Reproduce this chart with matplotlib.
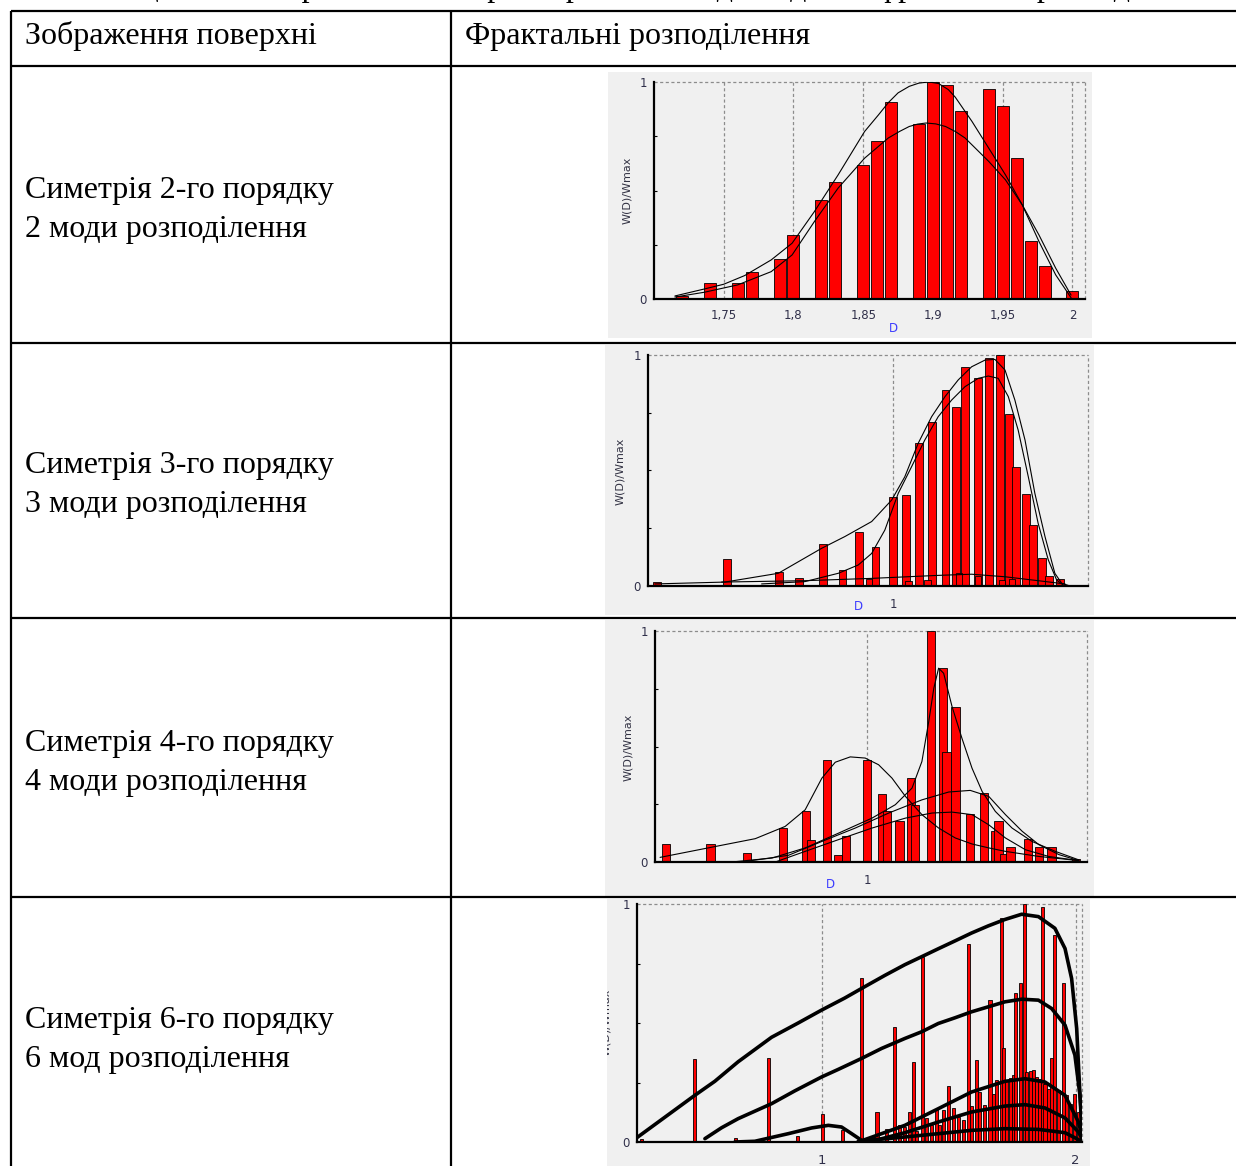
import matplotlib.pyplot as plt

W_PX, H_PX = 1236, 1166

# table text
caption_text = "Таблиця 3.2 – Зображення поверхні зразків та відповідні їм фрактальні розподілення D для різних порядків"
header_left = "Зображення поверхні"
header_right = "Фрактальні розподілення"
row_lines = [
    ["Симетрія 2-го порядку", "2 моди розподілення"],
    ["Симетрія 3-го порядку", "3 моди розподілення"],
    ["Симетрія 4-го порядку", "4 моди розподілення"],
    ["Симетрія 6-го порядку", "6 мод розподілення"],
]

# symmetry of 2nd order: histogram + two fitted modes
sym2_d = [1.72, 1.74, 1.76, 1.77, 1.79, 1.80, 1.82, 1.83, 1.85, 1.86, 1.87,
          1.89, 1.90, 1.91, 1.92, 1.94, 1.95, 1.96, 1.97, 1.98, 2.00]
sym2_w = [0.014, 0.072, 0.072, 0.126, 0.183, 0.295, 0.454, 0.538, 0.618, 0.726, 0.908,
          0.808, 1.0, 0.988, 0.865, 0.969, 0.891, 0.649, 0.268, 0.154, 0.037]
sym2_fit1_d = [1.715, 1.736, 1.750, 1.765, 1.784, 1.799, 1.815, 1.832, 1.851, 1.861, 1.868,
               1.875, 1.883, 1.890, 1.897, 1.904, 1.911, 1.916, 1.928, 1.940, 1.952, 1.964,
               1.976, 1.988, 1.999]
sym2_fit1_w = [0.014, 0.046, 0.068, 0.108, 0.180, 0.257, 0.403, 0.572, 0.772, 0.849, 0.905,
               0.950, 0.980, 0.995, 1.0, 0.993, 0.965, 0.930, 0.818, 0.695, 0.572, 0.434,
               0.265, 0.111, 0.006]
sym2_fit2_d = [1.715, 1.736, 1.760, 1.784, 1.799, 1.815, 1.832, 1.851, 1.868, 1.876, 1.883,
               1.889, 1.895, 1.902, 1.909, 1.916, 1.923, 1.940, 1.952, 1.964, 1.976, 1.988, 1.999]
sym2_fit2_w = [0.009, 0.031, 0.065, 0.126, 0.203, 0.357, 0.511, 0.649, 0.742, 0.772, 0.795,
               0.806, 0.811, 0.807, 0.795, 0.772, 0.742, 0.634, 0.549, 0.434, 0.295, 0.142, 0.018]

# symmetry of 3rd order
sym3_d = [0.066, 0.343, 0.551, 0.630, 0.722, 0.801, 0.867, 0.931, 1.001, 1.051, 1.104,
          1.153, 1.208, 1.248, 1.285, 1.337, 1.379, 1.423, 1.460, 1.487, 1.526, 1.555,
          1.590, 1.618, 1.660]
sym3_w = [0.019, 0.115, 0.062, 0.036, 0.180, 0.069, 0.235, 0.167, 0.384, 0.394, 0.618,
          0.711, 0.848, 0.773, 0.949, 0.899, 0.986, 1.0, 0.745, 0.514, 0.398, 0.264,
          0.120, 0.045, 0.029]
sym3_low_d = [0.906, 1.061, 1.137, 1.261, 1.335, 1.430, 1.470]
sym3_low_w = [0.029, 0.022, 0.025, 0.058, 0.045, 0.025, 0.030]
sym3_fit1_d = [0.059, 0.336, 0.547, 0.718, 0.810, 0.916, 0.995, 1.047, 1.100, 1.153, 1.206,
               1.258, 1.311, 1.364, 1.403, 1.443, 1.482, 1.522, 1.561, 1.601, 1.640, 1.667, 1.700]
sym3_fit1_w = [0.009, 0.017, 0.055, 0.163, 0.214, 0.279, 0.372, 0.473, 0.618, 0.733, 0.820,
               0.892, 0.949, 0.978, 0.981, 0.935, 0.805, 0.632, 0.401, 0.214, 0.055, 0.012, 0.0]
sym3_fit2_d = [0.481, 0.652, 0.784, 0.863, 0.916, 0.968, 1.021, 1.074, 1.126, 1.179, 1.232,
               1.285, 1.337, 1.377, 1.416, 1.456, 1.495, 1.535, 1.574, 1.614, 1.647, 1.673]
sym3_fit2_w = [0.009, 0.019, 0.055, 0.091, 0.141, 0.242, 0.401, 0.517, 0.632, 0.733, 0.805,
               0.863, 0.899, 0.909, 0.899, 0.820, 0.675, 0.473, 0.271, 0.113, 0.026, 0.004]
sym3_fit3_d = [0.323, 0.652, 0.916, 1.179, 1.311, 1.443, 1.574, 1.680]
sym3_fit3_w = [0.017, 0.023, 0.033, 0.046, 0.051, 0.040, 0.023, 0.009]

# symmetry of 4th order
sym4_d = [0.207, 0.382, 0.526, 0.668, 0.760, 0.779, 0.842, 0.885, 0.918, 1.001, 1.059,
          1.079, 1.128, 1.174, 1.191, 1.253, 1.300, 1.314, 1.349, 1.408, 1.461, 1.507,
          1.520, 1.540, 1.567, 1.636, 1.679, 1.729, 1.826]
sym4_w = [0.079, 0.079, 0.037, 0.147, 0.219, 0.097, 0.442, 0.032, 0.114, 0.442, 0.294,
          0.222, 0.176, 0.363, 0.248, 1.0, 0.839, 0.478, 0.669, 0.209, 0.298, 0.135,
          0.176, 0.035, 0.066, 0.101, 0.066, 0.066, 0.014]
sym4_fit1_d = [0.183, 0.382, 0.559, 0.677, 0.756, 0.822, 0.875, 0.934, 0.993, 1.046, 1.099,
               1.152, 1.217, 1.283, 1.349, 1.415, 1.481, 1.547, 1.679, 1.837]
sym4_fit1_w = [0.020, 0.063, 0.101, 0.154, 0.226, 0.363, 0.432, 0.455, 0.450, 0.421, 0.363,
               0.284, 0.205, 0.147, 0.104, 0.078, 0.061, 0.046, 0.024, 0.006]
sym4_fit2_d = [0.466, 0.625, 0.756, 0.888, 1.020, 1.112, 1.178, 1.217, 1.244, 1.264, 1.283,
               1.303, 1.336, 1.375, 1.415, 1.455, 1.507, 1.573, 1.652, 1.744, 1.837]
sym4_fit2_w = [0.0, 0.017, 0.061, 0.125, 0.190, 0.248, 0.320, 0.435, 0.608, 0.752, 0.839,
               0.817, 0.673, 0.536, 0.406, 0.305, 0.219, 0.147, 0.089, 0.046, 0.009]
sym4_fit3_d = [0.506, 0.690, 0.822, 0.954, 1.086, 1.217, 1.323, 1.408, 1.481, 1.547, 1.613,
               1.679, 1.758, 1.837]
sym4_fit3_w = [0.0, 0.029, 0.089, 0.147, 0.212, 0.269, 0.303, 0.310, 0.284, 0.205, 0.133,
               0.075, 0.032, 0.006]
sym4_fit4_d = [0.638, 0.756, 0.888, 1.020, 1.152, 1.257, 1.336, 1.415, 1.481, 1.547, 1.626,
               1.718, 1.837]
sym4_fit4_w = [0.0, 0.046, 0.097, 0.147, 0.190, 0.212, 0.216, 0.205, 0.161, 0.104, 0.053,
               0.024, 0.006]

# symmetry of 6th order
sym6_d = [0.287, 0.497, 0.658, 0.787, 0.901, 1.000, 1.079, 1.155, 1.195, 1.216,
          1.254, 1.286, 1.304, 1.326, 1.346, 1.359, 1.372, 1.396, 1.412, 1.432,
          1.451, 1.464, 1.480, 1.497, 1.517, 1.537, 1.557, 1.576, 1.589, 1.609,
          1.622, 1.642, 1.662, 1.675, 1.688, 1.708, 1.717, 1.728, 1.741, 1.754,
          1.764, 1.783, 1.797, 1.807, 1.820, 1.833, 1.846, 1.859, 1.870, 1.879,
          1.892, 1.905, 1.918, 1.932, 1.951, 1.964, 1.978, 1.995, 2.011, 2.024]
sym6_w = [0.011, 0.348, 0.017, 0.353, 0.025, 0.119, 0.049, 0.687, 0.017, 0.126,
          0.056, 0.484, 0.073, 0.063, 0.126, 0.337, 0.046, 0.778, 0.101, 0.070,
          0.140, 0.070, 0.133, 0.234, 0.143, 0.105, 0.091, 0.834, 0.151, 0.344,
          0.210, 0.154, 0.596, 0.203, 0.259, 0.942, 0.393, 0.259, 0.269, 0.281,
          0.627, 0.670, 1.0, 0.295, 0.297, 0.302, 0.273, 0.266, 0.989, 0.245,
          0.224, 0.351, 0.870, 0.217, 0.670, 0.196, 0.161, 0.203, 0.126, 0.070]
sym6_fit1_d = [0.267, 0.497, 0.576, 0.668, 0.800, 0.905, 0.997, 1.089, 1.155, 1.247, 1.326,
               1.405, 1.458, 1.524, 1.589, 1.655, 1.721, 1.787, 1.853, 1.918, 1.958, 1.984,
               2.004, 2.017, 2.026]
sym6_fit1_w = [0.017, 0.196, 0.255, 0.337, 0.440, 0.500, 0.554, 0.605, 0.645, 0.700, 0.745,
               0.785, 0.812, 0.845, 0.878, 0.908, 0.935, 0.957, 0.947, 0.898, 0.813, 0.687,
               0.477, 0.196, 0.014]
sym6_fit2_d = [0.537, 0.603, 0.668, 0.800, 0.892, 0.997, 1.063, 1.155, 1.234, 1.326, 1.392,
               1.458, 1.524, 1.589, 1.655, 1.721, 1.787, 1.853, 1.905, 1.958, 1.997, 2.017, 2.030]
sym6_fit2_w = [0.014, 0.060, 0.098, 0.161, 0.215, 0.273, 0.305, 0.351, 0.393, 0.435, 0.463,
               0.498, 0.522, 0.547, 0.568, 0.589, 0.600, 0.596, 0.561, 0.491, 0.365, 0.196, 0.014]
sym6_fit3_d = [1.142, 1.326, 1.458, 1.589, 1.721, 1.800, 1.879, 1.958, 2.011, 2.030]
sym6_fit3_w = [0.0, 0.070, 0.140, 0.210, 0.255, 0.266, 0.252, 0.196, 0.084, 0.007]
sym6_fit4_d = [1.195, 1.326, 1.458, 1.589, 1.721, 1.800, 1.879, 1.958, 2.011, 2.030]
sym6_fit4_w = [0.003, 0.039, 0.084, 0.126, 0.151, 0.157, 0.143, 0.101, 0.042, 0.003]
sym6_fit5_d = [1.142, 1.326, 1.458, 1.589, 1.721, 1.853, 1.958, 2.024]
sym6_fit5_w = [0.003, 0.021, 0.035, 0.049, 0.056, 0.053, 0.039, 0.003]
sym6_fit6_d = [0.655, 0.734, 0.866, 0.958, 1.024, 1.076, 1.116, 1.155, 1.195]
sym6_fit6_w = [0.0, 0.003, 0.035, 0.059, 0.070, 0.063, 0.035, 0.007, 0.0]

PANEL_BG = '#f0f0f0'
GRID = '#8c8c8c'
TICK_C = '#30304a'
SERIF = 'Liberation Serif'


def px_axes(fig, left, top, right, bottom):
    return fig.add_axes([left / W_PX, 1 - bottom / H_PX,
                         (right - left) / W_PX, (bottom - top) / H_PX])


def panel(fig, box):
    # grey backdrop of the exported program window, in pixel units
    ax = px_axes(fig, *box)
    ax.set_facecolor(PANEL_BG)
    ax.set_xlim(box[0], box[2])
    ax.set_ylim(box[3], box[1])
    ax.set_xticks([])
    ax.set_yticks([])
    for s in ax.spines.values():
        s.set_visible(False)
    return ax


def hist_axes(fig, box, xlim, grid_x, xticks, xlabels, xpad, tsize=8.5):
    ax = px_axes(fig, *box)
    ax.set_facecolor(PANEL_BG)
    ax.set_xlim(*xlim)
    ax.set_ylim(0, 1)
    ax.spines['top'].set_visible(False)
    ax.spines['right'].set_visible(False)
    ax.spines['left'].set_linewidth(1.6)
    ax.spines['bottom'].set_linewidth(1.6)
    dash = (0, (2.5, 2))
    for g in grid_x:
        ax.axvline(g, color=GRID, lw=0.9, ls=dash, zorder=1)
    ax.axhline(1, color=GRID, lw=0.9, ls=dash, zorder=1, clip_on=False)
    ax.axvline(xlim[1], color=GRID, lw=0.9, ls=dash, zorder=1, clip_on=False)
    ax.set_yticks([0, 1])
    ax.set_yticklabels(['0', '1'])
    ax.set_yticks([0.25, 0.5, 0.75], minor=True)
    ax.tick_params(axis='y', which='major', length=0, pad=5, labelsize=8.5, labelcolor=TICK_C)
    ax.tick_params(axis='y', which='minor', direction='in', length=2, width=0.8)
    ax.set_xticks(xticks)
    ax.set_xticklabels(xlabels)
    ax.tick_params(axis='x', length=0, pad=xpad, labelsize=tsize, labelcolor=TICK_C)
    return ax


def bars(ax, d, w, width):
    ax.bar(d, w, width=width, color='#ff0000', edgecolor='black', linewidth=0.6, zorder=2)


def curves(ax, pairs, lw):
    for xs, ys in pairs:
        ax.plot(xs, ys, color='black', lw=lw, zorder=3, solid_joinstyle='round',
                solid_capstyle='round')


def ylabel(bg, x, y, clip=False):
    bg.text(x, y, 'W(D)/Wmax', rotation=90, ha='center', va='center', fontsize=8,
            color='#333344', clip_on=clip)


def dlabel(bg, x, y):
    bg.text(x, y, 'D', ha='center', va='center', fontsize=8.5, color='#3c3cff')


fig = plt.figure(figsize=(W_PX / 100, H_PX / 100), dpi=100)

# --- row 1: 2nd order ---
bg = panel(fig, (608, 72, 1092, 338))
ax = hist_axes(fig, (654, 82, 1085, 299), (1.70, 2.009),
               [1.75, 1.80, 1.85, 1.90, 1.95, 2.00],
               [1.75, 1.80, 1.85, 1.90, 1.95, 2.00],
               ['1,75', '1,8', '1,85', '1,9', '1,95', '2'], 7)
bars(ax, sym2_d, sym2_w, 0.0086)
curves(ax, [(sym2_fit1_d, sym2_fit1_w), (sym2_fit2_d, sym2_fit2_w)], 0.8)
ylabel(bg, 627, 190)
dlabel(bg, 893, 328)

# --- row 2: 3rd order ---
bg = panel(fig, (605, 345, 1094, 615))
ax = hist_axes(fig, (648, 355, 1088, 586), (0.032, 1.771), [1.0], [1.0], ['1'], 9)
bars(ax, sym3_d, sym3_w, 0.031)
bars(ax, sym3_low_d, sym3_low_w, 0.025)
curves(ax, [(sym3_fit1_d, sym3_fit1_w), (sym3_fit2_d, sym3_fit2_w),
            (sym3_fit3_d, sym3_fit3_w)], 0.8)
ylabel(bg, 620, 471)
dlabel(bg, 858, 606)

# --- row 3: 4th order ---
bg = panel(fig, (605, 620, 1094, 896))
ax = hist_axes(fig, (655, 631, 1087, 862), (0.163, 1.869), [1.0], [1.0], ['1'], 9)
bars(ax, sym4_d, sym4_w, 0.033)
curves(ax, [(sym4_fit1_d, sym4_fit1_w), (sym4_fit2_d, sym4_fit2_w),
            (sym4_fit3_d, sym4_fit3_w), (sym4_fit4_d, sym4_fit4_w)], 0.8)
ylabel(bg, 628, 747)
dlabel(bg, 830, 885)

# --- row 4: 6th order ---
bg = panel(fig, (607, 899, 1090, 1166))
ax = hist_axes(fig, (637, 904, 1082, 1142), (0.269, 2.025), [1.0, 2.0], [1.0, 2.0],
               ['1', '2'], 9, tsize=9.5)
bars(ax, sym6_d, sym6_w, 0.012)
curves(ax, [(sym6_fit1_d, sym6_fit1_w), (sym6_fit2_d, sym6_fit2_w),
            (sym6_fit3_d, sym6_fit3_w), (sym6_fit4_d, sym6_fit4_w),
            (sym6_fit5_d, sym6_fit5_w), (sym6_fit6_d, sym6_fit6_w)], 2.6)
ylabel(bg, 606, 1022, clip=True)

# --- table grid and text on top ---
top = fig.add_axes([0, 0, 1, 1])
top.set_xlim(0, W_PX)
top.set_ylim(H_PX, 0)
top.axis('off')
for y in [11, 66, 343, 618, 897]:
    top.plot([11, W_PX], [y, y], color='black', lw=1.6, solid_capstyle='butt')
for x in [11, 451]:
    top.plot([x, x], [11, H_PX], color='black', lw=1.6, solid_capstyle='butt')

top.text(60, -4, caption_text, fontsize=23, family=SERIF, va='baseline', ha='left')
top.text(25, 44, header_left, fontsize=23, family=SERIF, va='baseline')
top.text(465, 44, header_right, fontsize=23, family=SERIF, va='baseline')
for (l1, l2), base in zip(row_lines, [198, 473, 751, 1028]):
    top.text(25, base, l1, fontsize=23, family=SERIF, va='baseline')
    top.text(25, base + 39, l2, fontsize=23, family=SERIF, va='baseline')

fig.savefig('out.png', dpi=100)
